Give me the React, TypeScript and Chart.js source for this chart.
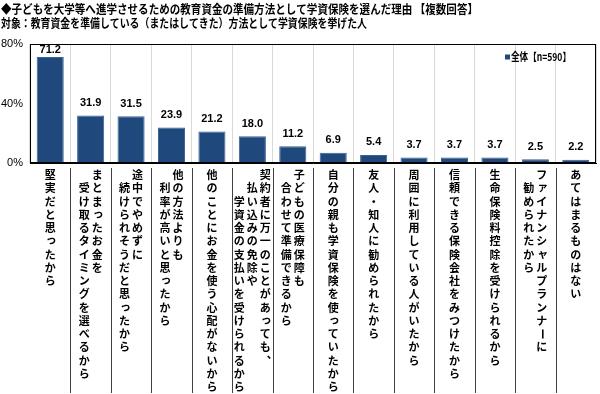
import React, { useEffect, useRef } from "react";
import { Chart, registerables } from "chart.js";

Chart.register(...registerables);

// Category labels: each entry is a list of vertical columns (right to left)
const categories: string[][] = [
  ["堅実だと思ったから"],
  ["まとまったお金を", "受け取るタイミングを選べるから"],
  ["途中でやめずに", "続けられそうだと思ったから"],
  ["他の方法よりも", "利率が高いと思ったから"],
  ["他のことにお金を使う心配がないから"],
  ["契約者に万一のことがあっても、", "払い込みの免除や", "学資金の支払いを受けられるから"],
  ["子どもの医療保障も", "合わせて準備できるから"],
  ["自分の親も学資保険を使っていたから"],
  ["友人・知人に勧められたから"],
  ["周囲に利用している人がいたから"],
  ["信頼できる保険会社をみつけたから"],
  ["生命保険料控除を受けられるから"],
  ["ファイナンシャルプランナーに", "勧められたから"],
  ["あてはまるものはない"],
];

const values: number[] = [71.2, 31.9, 31.5, 23.9, 21.2, 18.0, 11.2, 6.9, 5.4, 3.7, 3.7, 3.7, 2.5, 2.2];

const yTicks: number[] = [0, 40, 80];

const seriesName = "全体【n=590】";

const titleLines: string[] = [
  "◆子どもを大学等へ進学させるための教育資金の準備方法として学資保険を選んだ理由 【複数回答】",
  "対象：教育資金を準備している（またはしてきた）方法として学資保険を挙げた人",
];

const JP = '"Noto Sans CJK JP", "Noto Sans CJK SC", sans-serif';
const LAT = '"Liberation Sans", Arial, sans-serif';

const SMALL_KANA = "ぁぃぅぇぉっゃゅょゎァィゥェォッャュョヮヵヶ";

function drawVChar(ctx: CanvasRenderingContext2D, ch: string, x: number, y: number) {
  if (ch === "ー" || ch === "～" || ch === "〜") {
    ctx.save();
    ctx.translate(x, y);
    ctx.rotate(Math.PI / 2);
    ctx.fillText(ch, 0, 0);
    ctx.restore();
  } else if (ch === "、" || ch === "。") {
    ctx.fillText(ch, x + 7, y - 7);
  } else if (SMALL_KANA.includes(ch)) {
    ctx.fillText(ch, x + 1, y - 1);
  } else {
    ctx.fillText(ch, x, y);
  }
}

function fitText(ctx: CanvasRenderingContext2D, text: string, x: number, y: number, width: number) {
  const w = ctx.measureText(text).width;
  const s = width / w;
  ctx.save();
  ctx.translate(x, y);
  ctx.scale(s, 1);
  ctx.fillText(text, 0, 0);
  ctx.restore();
}

const customPlugin = {
  id: "customDraw",
  afterDraw(chart: any) {
    const { ctx, chartArea: ca, scales } = chart;
    const xs = scales.x;
    ctx.save();

    // plot border
    ctx.strokeStyle = "#000";
    ctx.lineWidth = 1;
    ctx.strokeRect(Math.round(ca.left) + 0.5, Math.round(ca.top) + 0.5, Math.round(ca.right - ca.left) - 1, Math.round(ca.bottom - ca.top) - 1);

    // separators under the axis
    const n = values.length;
    ctx.strokeStyle = "#404040";
    for (let i = 1; i < n; i++) {
      const xb = Math.round((xs.getPixelForValue(i - 1) + xs.getPixelForValue(i)) / 2) + 0.5;
      ctx.beginPath();
      ctx.moveTo(xb, ca.bottom + 5);
      ctx.lineTo(xb, chart.height - 1);
      ctx.stroke();
    }

    // vertical category labels
    ctx.fillStyle = "#000";
    ctx.font = `bold 11px ${JP}`;
    ctx.textAlign = "center";
    ctx.textBaseline = "middle";
    const rowH = 13.25;
    const colW = 13;
    const top0 = ca.bottom + 12;
    categories.forEach((cols, i) => {
      const cx = xs.getPixelForValue(i);
      const nc = cols.length;
      cols.forEach((line, k) => {
        const colX = cx + ((nc - 1) / 2 - k) * colW;
        Array.from(line).forEach((ch, r) => {
          drawVChar(ctx, ch, colX, top0 + (r + k) * rowH);
        });
      });
    });

    // value labels
    ctx.font = `bold 11px ${LAT}`;
    const meta = chart.getDatasetMeta(0);
    meta.data.forEach((bar: any, i: number) => {
      const cy = Math.max(bar.y - 12.5, ca.top + 6);
      ctx.fillText(values[i].toFixed(1), bar.x, cy);
    });

    // legend
    const lx = ca.right - 91;
    const ly = ca.top + 13;
    ctx.fillStyle = "#1f497d";
    ctx.fillRect(lx, ly - 2.5, 5, 5);
    ctx.fillStyle = "#000";
    ctx.textAlign = "left";
    ctx.font = `bold 11px ${JP}`;
    fitText(ctx, seriesName, lx + 6, ly, 60);

    // title
    ctx.font = `bold 12px ${JP}`;
    fitText(ctx, titleLines[0], 1, 9, 477);
    fitText(ctx, titleLines[1], 1, 23, 366);

    ctx.restore();
  },
};

export default function App() {
  const ref = useRef<HTMLCanvasElement | null>(null);

  useEffect(() => {
    document.body.style.margin = "0";
    const canvas = ref.current;
    if (!canvas) return;
    const chart = new Chart(canvas, {
      type: "bar",
      data: {
        labels: categories.map((c) => c.join("")),
        datasets: [
          {
            label: seriesName,
            data: values,
            backgroundColor: "#1f497d",
            borderColor: "#3a6190",
            borderWidth: 1,
            barPercentage: 0.67,
            categoryPercentage: 1,
          },
        ],
      },
      options: {
        responsive: false,
        animation: false,
        devicePixelRatio: 1,
        layout: { padding: { top: 44, right: 4, left: 0, bottom: 0 } },
        plugins: {
          legend: { display: false },
          tooltip: { enabled: false },
          title: { display: false },
        },
        scales: {
          x: {
            offset: true,
            grid: { color: "#d9d9d9", drawTicks: false, offset: true },
            border: { color: "#000" },
            ticks: { display: false },
            afterFit: (s: any) => {
              s.height = 231;
            },
          },
          y: {
            min: 0,
            max: 80,
            afterBuildTicks: (s: any) => {
              s.ticks = yTicks.map((v) => ({ value: v }));
            },
            grid: { display: false, drawTicks: false },
            border: { color: "#000" },
            ticks: {
              padding: 7,
              color: "#000",
              font: { family: LAT, size: 11 },
              callback: (v: any) => `${v}%`,
            },
            afterFit: (s: any) => {
              s.width = 30;
            },
          },
        },
      } as any,
      plugins: [customPlugin],
    });
    return () => chart.destroy();
  }, []);

  return (
    <div style={{ width: 600, height: 394 }}>
      <canvas ref={ref} width={600} height={394} style={{ display: "block" }} />
    </div>
  );
}
